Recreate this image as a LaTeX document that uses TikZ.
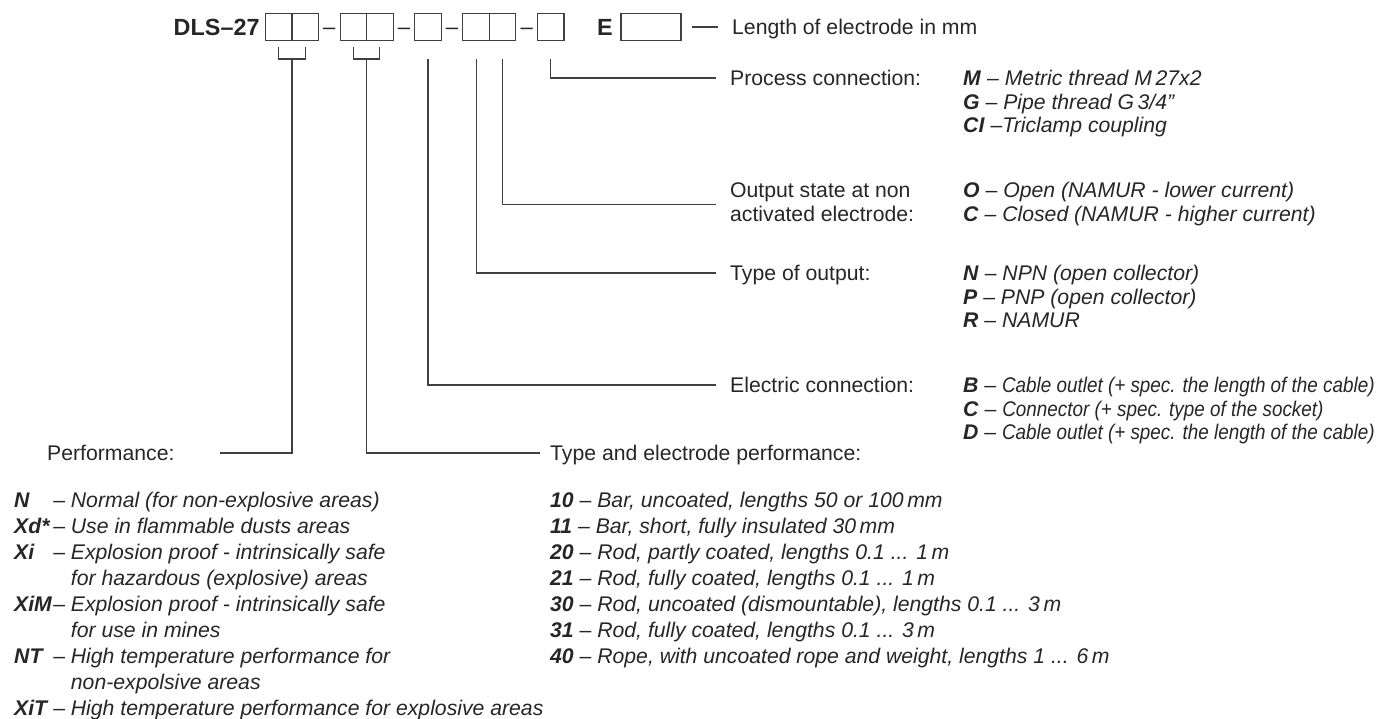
\documentclass[tikz,border=0pt]{standalone}
\usepackage{fontspec}
\usepackage{graphicx}
\setmainfont{Liberation Sans}
\usetikzlibrary{positioning}
\newcommand{\key}[1]{\textbf{\textit{#1}}}
\newcommand{\narrow}[1]{\scalebox{0.89}[1]{\textit{#1}}}

\begin{document}
\begin{tikzpicture}[x=1pt,y=1pt,
    every node/.style={text=black!85, font=\fontsize{21.2}{23.5}\selectfont},
    lead/.style={draw=black!75, line width=1.1pt},
    slot/.style={draw=black!75, line width=1.1pt, minimum width=26.5pt,
        minimum height=27.4pt, inner sep=0pt, outer sep=0pt},
    title/.style={inner sep=0pt, font=\fontsize{23.4}{26}\selectfont\bfseries},
    gap/.style={inner sep=0pt, text height=14pt, text depth=0pt,
        font=\fontsize{22}{24}\selectfont},
    lbl/.style={anchor=west, inner xsep=14pt, inner ysep=0pt,
        text height=15.2pt, text depth=0pt},
    opts/.style={anchor=north west, inner sep=0pt},
    rows/.style={anchor=north west, inner sep=0pt,
        font=\fontsize{21.2}{25.9}\selectfont}]
    \useasboundingbox (0,0) rectangle (1378,-718);

    \node[slot] (b1) at (278.7,-27) {};
    \node[title, left=5.7pt of b1] (dls) {DLS--27};
    \node[slot, right=0pt of b1] (b2) {};
    \node[gap, right=4.5pt of b2] (g1) {--};
    \node[slot, right=4.5pt of g1] (b3) {};
    \node[slot, right=0pt of b3] (b4) {};
    \node[gap, right=4.5pt of b4] (g2) {--};
    \node[slot, right=4.5pt of g2] (b5) {};
    \node[gap, right=4.5pt of b5] (g3) {--};
    \node[slot, right=4.5pt of g3] (b6) {};
    \node[slot, right=0pt of b6] (b7) {};
    \node[gap, right=4.5pt of b7] (g4) {--};
    \node[slot, right=4.5pt of g4] (b8) {};
    \node[title, right=33pt of b8] (e) {E};
    \node[slot, minimum width=60pt, right=8pt of e] (eb) {};
    \node[lbl, right=37pt of eb] (len) {Length of electrode in mm};

    \node[lbl] (pc) at (716,-78) {Process connection:};
    \node[opts, inner xsep=14pt] (os) at (716,-181.2)
        {\begin{tabular}{@{}l@{}}Output state at non\\activated electrode:\end{tabular}};
    \node[lbl] (to) at (716,-273) {Type of output:};
    \node[lbl] (ec) at (716,-385) {Electric connection:};
    \node[lbl, inner xsep=10pt] (tep) at (540,-453) {Type and electrode performance:};
    \node[lbl, inner xsep=0pt] (perf) at (47,-453) {Performance:};
    \coordinate (pj) at (220,-453);

    \node[opts] (pco) at (963,-69.2) {\begin{tabular}{@{}l@{}}
        \key{M} -- \textit{Metric thread M\,27x2}\\
        \key{G} -- \textit{Pipe thread G\,3/4"}\\
        \key{CI} --\textit{Triclamp coupling}\end{tabular}};
    \node[opts] (oso) at (963,-181.2) {\begin{tabular}{@{}l@{}}
        \key{O} -- \textit{Open (NAMUR - lower current)}\\
        \key{C} -- \textit{Closed (NAMUR - higher current)}\end{tabular}};
    \node[opts] (too) at (963,-264.2) {\begin{tabular}{@{}l@{}}
        \key{N} -- \textit{NPN (open collector)}\\
        \key{P} -- \textit{PNP (open collector)}\\
        \key{R} -- \textit{NAMUR}\end{tabular}};
    \node[opts] (eco) at (963,-376.2) {\begin{tabular}{@{}l@{}}
        \key{B} -- \narrow{Cable outlet (+ spec. the length of the cable)}\\
        \key{C} -- \narrow{Connector (+ spec. type of the socket)}\\
        \key{D} -- \narrow{Cable outlet (+ spec. the length of the cable)}\end{tabular}};

    \node[rows] (perfo) at (14,-489.5) {\begin{tabular}{@{}l@{\hspace{1pt}}l@{\ }l@{}}
        \key{N} & -- & \textit{Normal (for non-explosive areas)}\\
        \key{Xd*} & -- & \textit{Use in flammable dusts areas}\\
        \key{Xi} & -- & \textit{Explosion proof - intrinsically safe}\\
        & & \textit{for hazardous (explosive) areas}\\
        \key{XiM} & -- & \textit{Explosion proof - intrinsically safe}\\
        & & \textit{for use in mines}\\
        \key{NT} & -- & \textit{High temperature performance for}\\
        & & \textit{non-expolsive areas}\\
        \key{XiT} & -- & \textit{High temperature performance for explosive areas}\end{tabular}};
    \node[rows] (tepo) at (550,-489.5) {\begin{tabular}{@{}l@{}}
        \key{10} -- \textit{Bar, uncoated, lengths 50 or 100\,mm}\\
        \key{11} -- \textit{Bar, short, fully insulated 30\,mm}\\
        \key{20} -- \textit{Rod, partly coated, lengths 0.1 ... 1\,m}\\
        \key{21} -- \textit{Rod, fully coated, lengths 0.1 ... 1\,m}\\
        \key{30} -- \textit{Rod, uncoated (dismountable), lengths 0.1 ... 3\,m}\\
        \key{31} -- \textit{Rod, fully coated, lengths 0.1 ... 3\,m}\\
        \key{40} -- \textit{Rope, with uncoated rope and weight, lengths 1 ... 6\,m}\end{tabular}};

    \draw[lead] ([yshift=-6.6pt]b1.south) |- ([yshift=-18.3pt]b2.south) -- ([yshift=-6.6pt]b2.south);
    \draw[lead] ([yshift=-6.6pt]b3.south) |- ([yshift=-18.3pt]b4.south) -- ([yshift=-6.6pt]b4.south);
    \draw[lead] ([yshift=-18.3pt]b1.south east) |- (pj);
    \draw[lead] ([yshift=-18.3pt]b3.south east) |- (tep.west);
    \draw[lead] ([yshift=-18.3pt]b5.south) |- (ec.west);
    \draw[lead] ([yshift=-18.3pt]b6.south) |- (to.west);
    \draw[lead] ([yshift=-18.3pt]b7.south) |- (os.west);
    \draw[lead] ([yshift=-18.3pt]b8.south) |- (pc.west);
    \draw[lead] ([xshift=10.5pt]eb.east) -- (len.west);
\end{tikzpicture}
\end{document}
